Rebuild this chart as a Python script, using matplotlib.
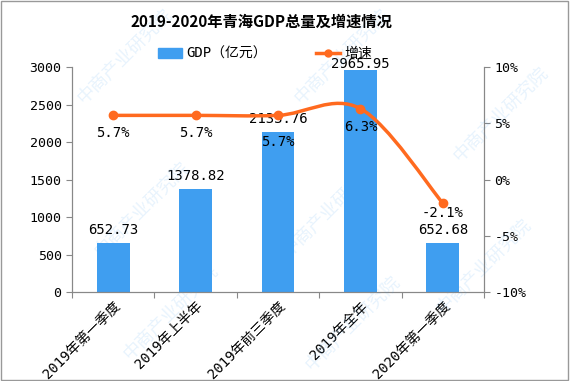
import matplotlib
matplotlib.use("Agg")
import matplotlib.pyplot as plt
from matplotlib.path import Path
from matplotlib.patches import PathPatch, Rectangle, Patch
from matplotlib.lines import Line2D

plt.rcParams['font.family'] = ['DejaVu Sans Mono', 'Noto Sans CJK SC']

# 数据
categories = ['2019年第一季度', '2019年上半年', '2019年前三季度', '2019年全年', '2020年第一季度']
gdp = [652.73, 1378.82, 2133.76, 2965.95, 652.68]
growth = [5.7, 5.7, 5.7, 6.3, -2.1]
left_ticks = [0, 500, 1000, 1500, 2000, 2500, 3000]
right_ticks = [-10, -5, 0, 5, 10]

bar_color = '#3F9EF0'
line_color = '#FF6A1F'
grey = '#888888'

fig = plt.figure(figsize=(5.7, 3.81), dpi=100)
ax = fig.add_axes([72 / 570, 1 - 292 / 381, 412 / 570, 225 / 381])
ax2 = ax.twinx()

x = list(range(len(categories)))
ax.bar(x, gdp, width=0.4, color=bar_color, zorder=2)
ax.set_xlim(-0.5, len(categories) - 0.5)
ax.set_ylim(0, 3000)
ax.set_yticks(left_ticks)
ax.tick_params(axis='y', labelsize=9.5, length=4, color=grey)
ax.set_xticks([i - 0.5 for i in range(len(x) + 1)])
ax.set_xticklabels([])
ax.tick_params(axis='x', length=4, color=grey)
ax.set_xticks(x, minor=True)
ax.set_xticklabels(categories, minor=True, rotation=45, ha='right',
                   rotation_mode='anchor', fontsize=10)
ax.tick_params(axis='x', which='minor', length=0, pad=5)

for a in (ax, ax2):
    a.spines['top'].set_visible(False)
    for s in ['left', 'bottom', 'right']:
        a.spines[s].set_color(grey)

bar_lift = [4, 4, 4, -1, 4]
for i, v in enumerate(gdp):
    ax.annotate(f'{v:.2f}', (i, v), xytext=(0, bar_lift[i]), textcoords='offset points',
                ha='center', va='bottom', fontsize=10)

# 增速：平滑曲线
ax2.set_ylim(-10, 10)
ax2.set_yticks(right_ticks)
ax2.set_yticklabels([f'{t}%' for t in right_ticks])
ax2.tick_params(axis='y', labelsize=9.5, length=4, color=grey)

pts = list(zip(x, growth))
verts = [pts[0]]
codes = [Path.MOVETO]
t = 1 / 6
for i in range(len(pts) - 1):
    p0 = pts[i - 1] if i > 0 else pts[i]
    p1, p2 = pts[i], pts[i + 1]
    p3 = pts[i + 2] if i + 2 < len(pts) else pts[i + 1]
    c1 = (p1[0] + (p2[0] - p0[0]) * t, p1[1] + (p2[1] - p0[1]) * t)
    c2 = (p2[0] - (p3[0] - p1[0]) * t, p2[1] - (p3[1] - p1[1]) * t)
    verts += [c1, c2, p2]
    codes += [Path.CURVE4] * 3
ax2.add_patch(PathPatch(Path(verts, codes), facecolor='none', edgecolor=line_color,
                        lw=2.5, zorder=3))
ax2.plot(x, growth, 'o', color=line_color, ms=6, zorder=4)
label_drop = [-8, -8, -14, -8, -2]
for i, v in enumerate(growth):
    ax2.annotate(f'{v}%', (i, v), xytext=(0, label_drop[i]), textcoords='offset points',
                 ha='center', va='top', fontsize=10)

# 标题与图例
fig.text(261 / 570, 1 - 22 / 381, '2019-2020年青海GDP总量及增速情况', ha='center', va='center',
         fontsize=11, fontweight='bold', family='Noto Sans CJK SC')
handles = [Patch(color=bar_color, label='GDP（亿元）'),
           Line2D([], [], color=line_color, lw=2.5, marker='o', ms=5, label='增速')]
fig.legend(handles=handles, loc='center', bbox_to_anchor=(265 / 570, 1 - 54 / 381), ncol=2,
           frameon=False, handlelength=1.7, handletextpad=0.3, columnspacing=3.6,
           prop={'family': ['DejaVu Sans Mono', 'Noto Sans CJK SC'], 'size': 10})

# 水印
for wx, wy in [(0.22, 0.85), (0.60, 0.85), (0.88, 0.70), (0.25, 0.45), (0.58, 0.45),
               (0.85, 0.30), (0.30, 0.18), (0.62, 0.15)]:
    fig.text(wx, wy, '中商产业研究院', rotation=45, fontsize=13, color='#3F9EF0',
             alpha=0.12, ha='center', va='center', family='Noto Sans CJK SC', zorder=0)

fig.patches.append(Rectangle((0.002, 0.003), 0.995, 0.994, transform=fig.transFigure,
                             fill=False, edgecolor='#999999', lw=1))

fig.savefig('out.png', dpi=100)
